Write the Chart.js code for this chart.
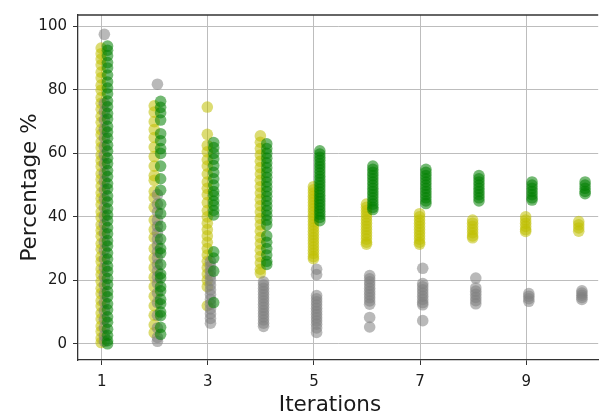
<!DOCTYPE html>
<html>
<head>
<meta charset="utf-8">
<script src="https://cdn.jsdelivr.net/npm/chart.js@4/dist/chart.umd.min.js"></script>
<style>
  html, body { margin: 0; padding: 0; background: #fff; }
  #wrap { width: 604px; height: 415px; }
</style>
</head>
<body>
<div id="wrap"><canvas id="c" width="604" height="415"></canvas></div>
<script>
// Iteration index for each run column
const iterations = [1, 2, 3, 4, 5, 6, 7, 8, 9, 10];
const xTicks = [1, 3, 5, 7, 9];
const yTicks = [0, 20, 40, 60, 80, 100];

// Percentages per iteration (one inner list per iteration)
const grayRuns = [
  [97.5, 75.8, 73.2, 70.5, 67.6, 64.9, 62.1, 59.4, 56.7, 53.8, 51.2, 48.5, 45.7, 42.9, 40.2, 37.6, 34.8, 32.1, 29.5, 26.7, 23.9, 21.2, 18.6, 15.8, 13.1, 10.4, 7.7, 5.1, 2.6, 0.8],
  [81.8, 47, 44, 41.5, 39, 37, 35, 33, 31, 29, 27, 25, 23, 21, 19, 16, 13, 9, 5, 2, 0.8],
  [26, 24.5, 23, 21.5, 20, 18.5, 17, 15.5, 14, 12.5, 11, 9.5, 8, 6.5],
  [19.5, 18.5, 17.5, 16.5, 15.5, 14.5, 13.5, 12.5, 11.5, 10.5, 9.5, 8.5, 7.5, 6.5, 5.5],
  [23.5, 21.8, 15.2, 14.2, 13.2, 12.2, 11.2, 10.2, 9.2, 8.2, 7.2, 6.2, 5.0, 3.6],
  [21.5, 20.5, 19.5, 18.5, 17.5, 16.5, 15.5, 14.5, 13.5, 12.5, 8.3, 5.3],
  [23.8, 19, 18, 17, 16, 15, 14, 13, 12.3, 7.3],
  [20.7, 17.6, 16.6, 15.6, 14.6, 13.6, 12.6],
  [15.8, 15, 14.2, 13.4],
  [16.7, 16, 15.3, 14.6, 14]
];
const yellowRuns = [
  [93.2, 91.4, 89.7, 87.9, 85.6, 83.8, 81.5, 79.9, 77.6, 75.8, 73.9, 71.7, 69.8, 67.5, 65.9, 63.6, 61.8, 59.5, 57.7, 55.9, 53.6, 51.8, 49.7, 47.6, 45.8, 43.9, 41.6, 39.8, 37.5, 35.7, 33.9, 31.6, 29.8, 27.5, 25.9, 23.6, 21.8, 19.7, 17.5, 15.8, 13.6, 11.9, 9.7, 7.8, 5.6, 3.9, 1.8, 0.4],
  [75, 73, 70, 67.5, 65, 62, 59, 56, 53, 51.5, 48, 46, 43, 39, 36, 33.5, 30, 27, 24, 21, 18, 15, 12, 9, 6, 3.5],
  [74.6, 66, 62.5, 60.5, 58, 56, 53.5, 51, 49, 47, 44.5, 42, 40, 38, 36, 34, 32, 30, 28, 26, 24, 22, 20, 18, 12],
  [65.5, 63.5, 61.5, 59.5, 57.5, 55.5, 53.5, 51.5, 49.5, 47.5, 45.5, 43.5, 41.5, 39.5, 37.5, 35.5, 33.5, 31.5, 29.5, 27.5, 25.5, 23.5, 22.3],
  [49.5, 48.5, 47.5, 46.5, 45.5, 44.5, 43.5, 42.5, 41.5, 40.5, 39.5, 38.5, 37.5, 36.5, 35.5, 34.5, 33.5, 32.5, 31.5, 30.5, 29.5, 28.5, 27.5, 26.8],
  [44, 43, 42, 41, 40, 39, 38, 37, 36, 35, 34, 33, 32, 31.4],
  [41, 40, 39, 38, 37, 36, 35, 34, 33, 32, 31.4],
  [39, 38, 37, 36, 35, 34, 33.4],
  [40, 39, 38, 37, 36, 35.4],
  [38.5, 37.5, 36.5, 35.5]
];
const greenRuns = [
  [93.8, 92.5, 90.8, 88.6, 86.9, 84.7, 82.5, 80.6, 78.8, 76.5, 74.7, 72.6, 70.8, 68.5, 66.7, 64.8, 62.6, 60.7, 58.5, 56.8, 54.6, 52.7, 50.5, 48.8, 46.6, 44.7, 42.5, 40.6, 38.8, 36.6, 34.7, 32.5, 30.8, 28.6, 26.7, 24.5, 22.8, 20.6, 18.7, 16.5, 14.8, 12.6, 10.7, 8.5, 6.8, 4.6, 2.7, 1.0, 0],
  [76.4, 74.5, 72.8, 70.5, 66.2, 64, 61.5, 60, 56, 52, 48.4, 44, 41, 37, 33, 30, 28.6, 25, 22, 20.8, 18, 16.7, 14, 12.6, 10, 8.9, 5.2, 3],
  [63.4, 61.8, 60, 58.2, 56.2, 54, 52, 50, 48, 46.8, 45, 43.7, 42, 40.6, 29, 27, 22.9, 13],
  [63, 61.5, 60, 58.5, 57, 55.5, 54, 52.5, 51, 49.5, 48, 46.5, 45, 43.5, 42, 40.5, 39, 37.5, 34, 32, 30, 28, 26, 25],
  [60.8, 59.8, 58.8, 57.8, 56.8, 55.8, 54.8, 53.8, 52.8, 51.8, 50.8, 49.8, 48.8, 47.8, 46.8, 45.8, 44.8, 43.8, 42.8, 41.8, 40.8, 39.8, 38.8],
  [56, 55, 54, 53, 52, 51, 50, 49, 48, 47, 46, 45, 44, 43, 42.3],
  [55, 54, 53, 52, 51, 50, 49, 48, 47, 46, 45, 44.2],
  [53, 52, 51, 50, 49, 48, 47, 46, 45],
  [51, 50, 49, 48, 47, 46, 45.3],
  [51, 50, 49, 48, 47.3]
];

// Small horizontal shift per series so the columns sit side by side
function toPoints(runs, shift) {
  return runs.flatMap((vals, i) => vals.map(v => ({ x: iterations[i] + shift, y: v })));
}

const FONT = 'DejaVu Sans';
const TEXT = '#1a1a1a';
const FRAME = '#333333';
const GRID = '#bdbdbd';

// Top frame line and the x-axis caption
const framePlugin = {
  id: 'frame',
  beforeDatasetsDraw(chart) {
    const { ctx, chartArea } = chart;
    ctx.save();
    ctx.strokeStyle = FRAME;
    ctx.lineWidth = 1.3;
    ctx.beginPath();
    ctx.moveTo(chartArea.left, chartArea.top);
    ctx.lineTo(chartArea.right, chartArea.top);
    ctx.stroke();
    ctx.restore();
  },
  afterDraw(chart) {
    const { ctx } = chart;
    ctx.save();
    ctx.fillStyle = TEXT;
    ctx.font = '21.5px "' + FONT + '"';
    ctx.textAlign = 'center';
    ctx.textBaseline = 'alphabetic';
    ctx.fillText('Iterations', 330, 411);
    ctx.restore();
  }
};

// The first dataset is painted last (on top): green, then gray, then yellow underneath
new Chart(document.getElementById('c'), {
  type: 'scatter',
  data: {
    datasets: [
      { label: 'green', data: toPoints(greenRuns, 0.11), backgroundColor: 'rgba(0,128,0,0.55)' },
      { label: 'gray', data: toPoints(grayRuns, 0.05), backgroundColor: 'rgba(128,128,128,0.55)' },
      { label: 'yellow', data: toPoints(yellowRuns, -0.01), backgroundColor: 'rgba(191,191,0,0.55)' }
    ]
  },
  options: {
    responsive: false,
    animation: false,
    devicePixelRatio: 1,
    events: [],
    layout: { padding: { top: 11, right: 0, left: 0, bottom: 0 } },
    elements: { point: { radius: 5.8, borderWidth: 0, hoverRadius: 5.8 } },
    plugins: { legend: { display: false }, tooltip: { enabled: false } },
    scales: {
      x: {
        type: 'linear',
        min: 0.553,
        max: 10.357,
        afterBuildTicks(scale) { scale.ticks = xTicks.map(v => ({ value: v })); },
        afterFit(scale) { scale.height = 55; },
        grid: { color: GRID, lineWidth: 1, tickLength: 5, tickColor: FRAME, drawTicks: true },
        border: { display: true, color: FRAME, width: 1.3 },
        ticks: { color: TEXT, font: { family: FONT, size: 15 }, padding: 8, maxRotation: 0, autoSkip: false },
        title: { display: false }
      },
      y: {
        type: 'linear',
        min: -5.1,
        max: 103.6,
        afterBuildTicks(scale) { scale.ticks = yTicks.map(v => ({ value: v })); },
        afterFit(scale) { scale.width = 78; },
        grid: { color: GRID, lineWidth: 1, tickLength: 5, tickColor: FRAME, drawTicks: true },
        border: { display: true, color: FRAME, width: 1.3 },
        ticks: { color: TEXT, font: { family: FONT, size: 15 }, padding: 6, autoSkip: false },
        title: { display: true, text: 'Percentage %', color: TEXT, font: { family: FONT, size: 21.5 }, padding: { top: 18, bottom: 0 } }
      }
    }
  },
  plugins: [framePlugin]
});
</script>
</body>
</html>
